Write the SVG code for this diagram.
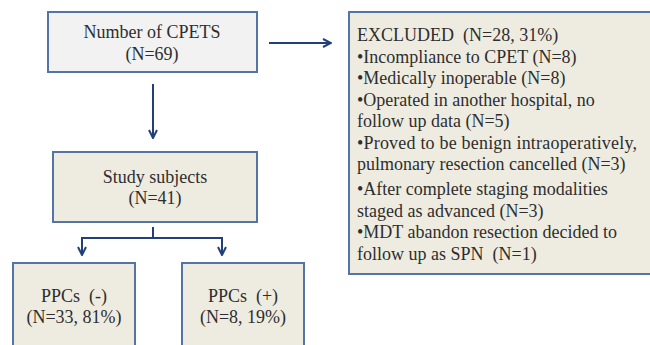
<svg xmlns="http://www.w3.org/2000/svg" width="650" height="345" viewBox="0 0 650 345">
<style>
.box{fill:#eeece1;stroke:#5474a6;stroke-width:2}
.box1{fill:#f2f2f2;stroke:#5474a6;stroke-width:2}
text{font-family:"Liberation Serif","Times New Roman",serif;font-size:18px;fill:#2e2e2e}
.c{text-anchor:middle}
.con{fill:none;stroke:#223f7c;stroke-width:2}
</style>
<defs>
<marker id="ah" viewBox="0 0 10 10" refX="9" refY="5" markerWidth="10" markerHeight="10" markerUnits="userSpaceOnUse" orient="auto">
<path d="M1,1 L9,5 L1,9" fill="none" stroke="#223f7c" stroke-width="2"/>
</marker>
</defs>
<rect width="650" height="345" fill="#ffffff"/>
<g id="connectors">
<line class="con" x1="269" y1="43" x2="331" y2="43" marker-end="url(#ah)"/>
<line class="con" x1="153" y1="84" x2="153" y2="138" marker-end="url(#ah)"/>
<polyline class="con" points="153,227 153,238"/>
<polyline class="con" points="82,238 222,238"/>
<line class="con" x1="82" y1="237" x2="82" y2="255" marker-end="url(#ah)"/>
<line class="con" x1="222" y1="237" x2="222" y2="255" marker-end="url(#ah)"/>
</g>
<g id="node-cpets">
<rect class="box1" x="48" y="12" width="209" height="60"/>
<text class="c" x="152" y="38">Number of CPETS</text>
<text class="c" x="152" y="60">(N=69)</text>
</g>
<g id="node-excluded">
<rect class="box" x="349" y="12" width="310" height="262"/>
<text x="357" y="41">EXCLUDED&#160; (N=28, 31%)</text>
<text x="357" y="62.5">•Incompliance to CPET (N=8)</text>
<text x="357" y="84">•Medically inoperable (N=8)</text>
<text x="357" y="105.5">•Operated in another hospital, no</text>
<text x="357" y="127">follow up data (N=5)</text>
<text x="357" y="148.5" textLength="280">•Proved to be benign intraoperatively,</text>
<text x="357" y="170">pulmonary resection cancelled (N=3)</text>
<text x="357" y="195">•After complete staging modalities</text>
<text x="357" y="216.5">staged as advanced (N=3)</text>
<text x="357" y="238">•MDT abandon resection decided to</text>
<text x="357" y="259.5">follow up as SPN&#160; (N=1)</text>
</g>
<g id="node-study">
<rect class="box" x="53" y="152" width="204" height="70"/>
<text class="c" x="155" y="183">Study subjects</text>
<text class="c" x="155" y="204">(N=41)</text>
</g>
<g id="node-ppc-neg">
<rect class="box" x="13" y="263" width="122" height="100"/>
<text class="c" x="74" y="302">PPCs&#160; (-)</text>
<text class="c" x="74" y="323">(N=33, 81%)</text>
</g>
<g id="node-ppc-pos">
<rect class="box" x="182" y="263" width="122" height="100"/>
<text class="c" x="243" y="302">PPCs&#160; (+)</text>
<text class="c" x="243" y="323">(N=8, 19%)</text>
</g>
</svg>
